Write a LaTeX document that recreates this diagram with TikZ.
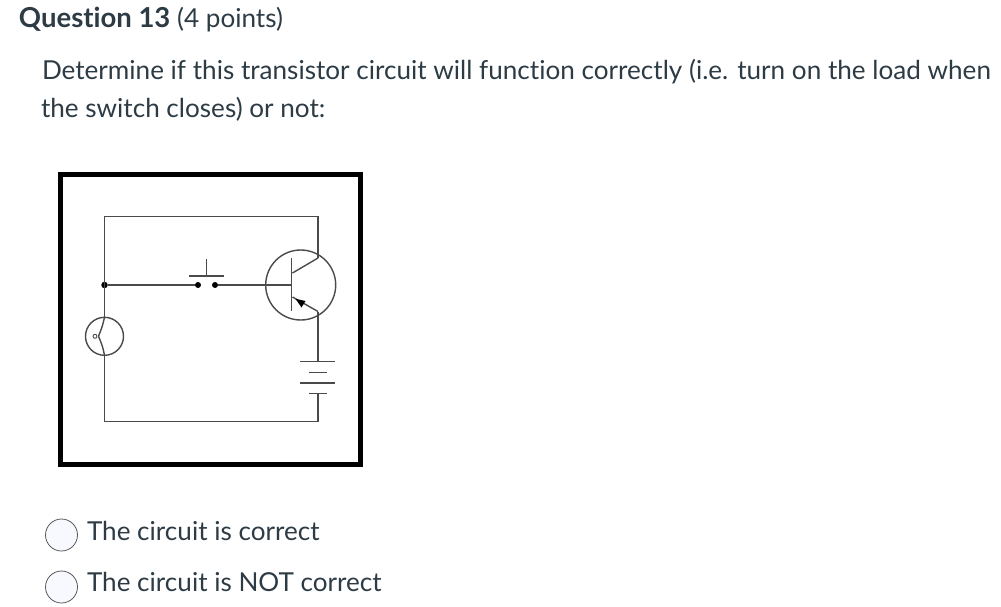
\documentclass[tikz,border=0pt]{standalone}
\usepackage{fontspec}
\setmainfont{Lato}[Ligatures=NoCommon]
\usepackage{xcolor}
\usetikzlibrary{arrows.meta, positioning, calc}
\definecolor{inktext}{HTML}{2D3B45}
\definecolor{wirecol}{HTML}{4A4A4A}
\definecolor{radiofill}{HTML}{F8F9FF}
\tikzset{
  wire/.style={draw=wirecol, line width=1.4pt},
  txt/.style={anchor=base west, inner sep=0pt, outer sep=0pt, text=inktext, font=\fontsize{26.1}{30}\selectfont},
  radiobtn/.style={circle, draw=black!65, fill=radiofill, line width=0.8pt, minimum size=32pt, inner sep=0pt},
  dot/.style={circle, fill=black, minimum size=6.5pt, inner sep=0pt},
}
\begin{document}
\begin{tikzpicture}[x=1pt,y=-1pt]
\useasboundingbox (0,0) rectangle (1001,606);
% Texts
\node[txt] (title) at (19,27) {{\fontsize{27.5}{30}\selectfont\textbf{Question 13}} (4 points)};
\node[txt] (lineone) at (42,79) {Determine if this transistor circuit will function correctly (i.e. turn on the load when};
\node[txt] (linetwo) at (41,117) {the switch closes) or not:};

% Frame
\draw[black, line width=5pt] (60.5,174.5) rectangle (360.5,464.5);

% Transistor and lamp
\node[circle, wire, minimum size=70pt, inner sep=0pt] (trans) at (300.7,285) {};
\node[circle, wire, minimum size=38pt, inner sep=0pt] (lamp) at (104.5,336.3) {};

% Corners and junctions
\coordinate (tl) at (104.5,216.5);
\coordinate (tr) at (318,216.5);
\coordinate (bl) at (104.5,421.7);
\coordinate (br) at (318,421.7);
\coordinate (coll) at (318,258);
\coordinate (emit) at (318,311.5);
\coordinate (basetop) at (291.7,258);
\coordinate (basebot) at (291.7,311);
\coordinate (basemid) at (291.7,285);
\coordinate (lamptop) at (104.5,317.3);
\coordinate (lampbot) at (104.5,355.3);
\node[dot] (junc) at (104.5,285) {};
\node[dot, minimum size=6pt] (swa) at (198,285) {};
\node[dot, minimum size=6pt] (swb) at (215,285) {};

% Switch
\coordinate (barl) at (188.7,276);
\coordinate (barr) at (224,276);
\coordinate (bartop) at (206.7,259);
\coordinate (barmid) at (206.7,276);
\draw[wire] (barl) -- (barr);
\draw[wire] (bartop) -- (barmid);

% Wires
\draw[wire] (lamptop) -- (tl) -- (tr) -- (coll);
\draw[wire] (junc) -- (swa);
\draw[wire] (swb) -- (basemid);
\draw[wire] (lampbot) -- (bl) -- (br) -- (318,393.7);
\draw[wire] (emit) -- (318,361.7);

% Transistor inside
\draw[wire] (basetop) -- (basebot);
\draw[wire] (292.5,273) -- (coll);
\draw[wire] (292.5,297) -- (emit);
\fill[black] (295.5,298.8) -- (305.5,301) -- (301.5,307.5) -- cycle;

% Lamp inside
\draw[wire] (lamptop) .. controls (102.5,326) .. (98.5,336.3);
\draw[wire] (lampbot) .. controls (102.5,346) .. (98.5,336.3);
\draw[wirecol, line width=0.9pt] (95,336.3) circle (2);

% Battery
\foreach \yy/\xa/\xb in {361.7/300/335, 372.7/309/326.7, 383/300/335, 393.7/309/326.7}
    \draw[wire] (\xa,\yy) -- (\xb,\yy);

% Options
\node[radiobtn] (optone) at (61.5,535) {};
\node[radiobtn] (opttwo) at (61.5,587) {};
\node[txt] (opttxtone) at (87,540) {The circuit is correct};
\node[txt] (opttxttwo) at (87,591) {The circuit is NOT correct};
\end{tikzpicture}
\end{document}
